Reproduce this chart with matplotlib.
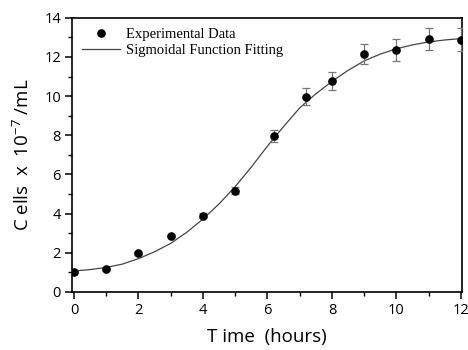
import matplotlib
matplotlib.use("Agg")
import matplotlib.pyplot as plt
from matplotlib.lines import Line2D
from matplotlib.ticker import MultipleLocator

# measured cell counts
t_data = [0, 1, 2, 3, 4, 5, 6.2, 7.2, 8, 9, 10, 11, 12]
cells = [1.02, 1.18, 1.97, 2.84, 3.9, 5.18, 7.95, 9.98, 10.78, 12.14, 12.35, 12.9, 12.88]
cells_err = [0.05, 0.05, 0.08, 0.05, 0.12, 0.2, 0.3, 0.42, 0.46, 0.52, 0.55, 0.56, 0.58]

# sigmoidal fit curve
t_fit = [0, 0.5, 1, 1.5, 2, 2.5, 3, 3.5, 4, 4.5, 5, 5.5, 6, 6.5, 7, 7.5, 8,
         8.5, 9, 9.5, 10, 10.5, 11, 11.5, 12]
cells_fit = [1.07, 1.14, 1.25, 1.42, 1.70, 2.05, 2.48, 3.05, 3.72, 4.50, 5.38,
             6.38, 7.45, 8.45, 9.40, 10.12, 10.75, 11.32, 11.80, 12.15, 12.42,
             12.62, 12.77, 12.87, 12.94]

fig = plt.figure(figsize=(4.68, 3.5), dpi=100)
ax = fig.add_axes([0.154, 0.166, 0.833, 0.783])

ax.plot(t_fit, cells_fit, color="#444444", lw=0.9)
ax.errorbar(t_data, cells, yerr=cells_err, fmt="o", color="black", ms=5.2,
            ecolor="#777777", elinewidth=0.9, capsize=3, capthick=0.9, zorder=3)

ax.set_xlim(-0.06, 12.03)
ax.set_ylim(0, 14)
ax.xaxis.set_major_locator(MultipleLocator(2))
ax.xaxis.set_minor_locator(MultipleLocator(1))
ax.yaxis.set_major_locator(MultipleLocator(2))
ax.yaxis.set_minor_locator(MultipleLocator(1))
ax.tick_params(which="major", direction="out", length=5, width=1.1,
               labelsize=10.5, pad=3)
ax.tick_params(which="minor", direction="out", length=3, width=1.0)
for lab in ax.get_xticklabels() + ax.get_yticklabels():
    lab.set_fontfamily("Open Sans")
for s in ax.spines.values():
    s.set_linewidth(1.2)

ax.set_xlabel("T ime  (hours)", fontsize=13.5, family="Open Sans", labelpad=7)
ax.set_ylabel("C ells  x  10$^{\\mathregular{-7}}$ /mL", fontsize=13.5,
              family="Open Sans", labelpad=8)

handles = [Line2D([], [], ls="none", marker="o", color="black", ms=5.2),
           Line2D([], [], color="#444444", lw=0.9)]
labels = ["Experimental Data", "Sigmoidal Function Fitting"]
ax.legend(handles, labels, loc="upper left", frameon=False,
          prop={"family": "Liberation Serif", "size": 10.5},
          handlelength=2.6, handletextpad=0.4, borderaxespad=0.3,
          labelspacing=0.15)

fig.savefig("out.png", dpi=100)
